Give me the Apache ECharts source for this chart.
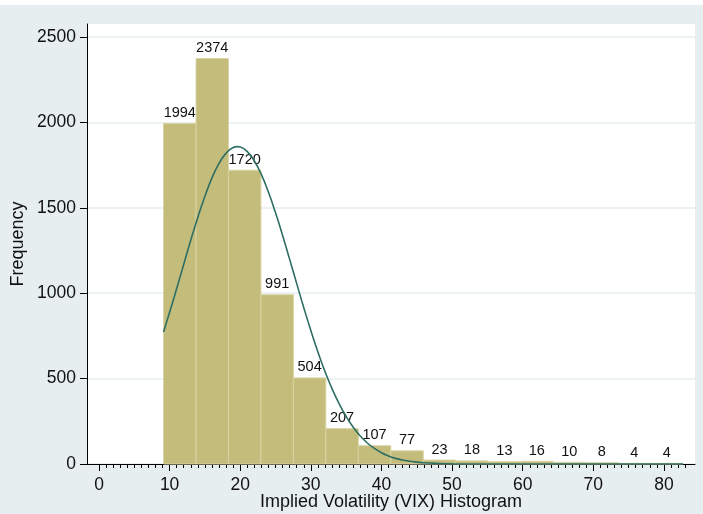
<!DOCTYPE html>
<html>
<head>
<meta charset="utf-8">
<script src="https://cdn.jsdelivr.net/npm/echarts@6/dist/echarts.min.js"></script>
<style>
  html, body { margin: 0; padding: 0; background: #ffffff; }
  #chart { position: absolute; left: 0; top: 5px; width: 703px; height: 509px; }
</style>
</head>
<body>
<div id="chart"></div>
<script>
// Histogram bins (edges) and counts
const binEdges = [9.14, 13.74, 18.33, 22.93, 27.53, 32.12, 36.72, 41.32, 45.92,
                  50.51, 55.11, 59.71, 64.30, 68.90, 73.50, 78.09, 82.69];
const counts = [1994, 2374, 1720, 991, 504, 207, 107, 77, 23, 18, 13, 16, 10, 8, 4, 4];

// Normal density overlay
const curveX = [9.14, 10, 11, 12, 13, 14, 15, 16, 17, 18, 19, 19.6, 20, 21, 22, 23, 24, 25,
                26, 27, 28, 29, 30, 31, 32, 33, 34, 35, 36, 37, 38, 39, 40, 41, 42, 43, 44,
                45, 46, 48, 50, 55, 60, 70, 82.69];
const curveY = [773, 888, 1027, 1170, 1311, 1445, 1568, 1675, 1760, 1820, 1853, 1858, 1856,
                1829, 1774, 1694, 1591, 1471, 1338, 1198, 1056, 915, 781, 656, 542, 441, 353,
                278, 215, 164, 123, 91, 66, 47, 33, 23, 16, 11, 7, 3, 1, 0, 0, 0, 0];

// Tick labels
const xTickLabels = [0, 10, 20, 30, 40, 50, 60, 70, 80];
const xMinorTicks = [0,1,2,3,4,5,6,7,8,9,10,11,12,13,14,15,16,17,18,19,20,21,22,23,24,25,26,27,28,29,
                     30,31,32,33,34,35,36,37,38,39,40,41,42,43,44,45,46,47,48,49,50,51,52,53,54,55,
                     56,57,58,59,60,61,62,63,64,65,66,67,68,69,70,71,72,73,74,75,76,77,78,79,80,81,82,83];
const yTickLabels = [0, 500, 1000, 1500, 2000, 2500];

const FONT = '"Liberation Sans", Arial, Helvetica, sans-serif';

const histData = counts.map((c, i) => [binEdges[i], binEdges[i + 1], c]);
const curveData = curveX.map((x, i) => [x, curveY[i]]);

const chart = echarts.init(document.getElementById('chart'), null, { renderer: 'canvas' });

chart.setOption({
  backgroundColor: '#e7eef0',
  animation: false,
  textStyle: { fontFamily: FONT },
  grid: {
    left: 87, right: 8, top: 19, bottom: 50,
    containLabel: false,
    outerBoundsMode: 'none',
    show: true, backgroundColor: '#ffffff', borderWidth: 0
  },
  xAxis: [{
    type: 'value',
    min: -1.7, max: 84.4,
    position: 'bottom',
    name: 'Implied Volatility (VIX) Histogram',
    nameLocation: 'middle',
    nameGap: 29,
    nameMoveOverlap: false,
    nameTextStyle: { fontSize: 18, color: '#111', fontFamily: FONT },
    axisLine: { show: true, onZero: false, lineStyle: { color: '#000', width: 1 } },
    axisTick: { show: true, length: 7, customValues: xTickLabels, lineStyle: { color: '#000', width: 1 } },
    axisLabel: { customValues: xTickLabels, fontSize: 17.5, color: '#111', margin: 12, fontFamily: FONT,
                 formatter: v => String(v) },
    splitLine: { show: false }
  }, {
    type: 'value',
    min: -1.7, max: 84.4,
    position: 'bottom',
    axisLine: { show: false, onZero: false },
    axisTick: { show: true, length: 4, customValues: xMinorTicks, lineStyle: { color: '#000', width: 1 } },
    axisLabel: { show: false },
    splitLine: { show: false }
  }],
  yAxis: {
    type: 'value',
    min: 0, max: 2576, interval: 500,
    name: 'Frequency',
    nameLocation: 'middle',
    nameGap: 60,
    nameMoveOverlap: false,
    nameTextStyle: { fontSize: 18, color: '#111', fontFamily: FONT },
    axisLine: { show: true, onZero: false, lineStyle: { color: '#000', width: 1 } },
    axisTick: { show: true, length: 7, customValues: yTickLabels, lineStyle: { color: '#000', width: 1 } },
    axisLabel: { customValues: yTickLabels, fontSize: 17.5, color: '#111', margin: 11, fontFamily: FONT,
                 formatter: v => String(v) },
    splitLine: { show: true, lineStyle: { color: '#e6eef0', width: 1.5 } }
  },
  series: [{
    type: 'custom',
    xAxisIndex: 0,
    data: histData,
    clip: false,
    renderItem: function (params, api) {
      const x0 = api.value(0), x1 = api.value(1), v = api.value(2);
      const p0 = api.coord([x0, 0]);
      const p1 = api.coord([x1, v]);
      return {
        type: 'group',
        children: [{
          type: 'rect',
          shape: { x: p0[0], y: p1[1], width: p1[0] - p0[0], height: p0[1] - p1[1] },
          style: { fill: '#c4bc7b', stroke: '#d8d3a4', lineWidth: 1 }
        }, {
          type: 'text',
          style: {
            text: String(v),
            x: (p0[0] + p1[0]) / 2,
            y: p1[1] - 3,
            align: 'center',
            verticalAlign: 'bottom',
            fontSize: 14.5,
            fontFamily: FONT,
            fill: '#111'
          }
        }]
      };
    }
  }, {
    type: 'line',
    xAxisIndex: 0,
    data: curveData,
    smooth: true,
    showSymbol: false,
    symbol: 'none',
    lineStyle: { color: '#2e6e63', width: 1.6 }
  }]
});
</script>
</body>
</html>
